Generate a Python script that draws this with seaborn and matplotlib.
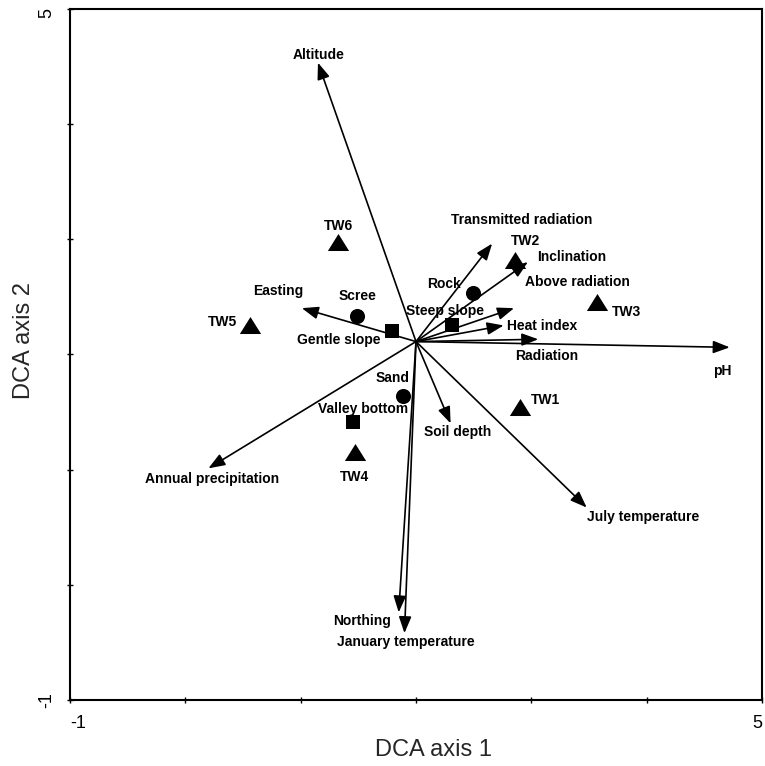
import matplotlib
matplotlib.use("Agg")
import matplotlib.pyplot as plt
import seaborn as sns
import pandas as pd
from matplotlib.path import Path

# Centroid from which the environmental vectors start
origin_x, origin_y = 2.0, 2.11

# Environmental variables (arrow tips in DCA space)
env_vars = ["Altitude", "Transmitted radiation", "Inclination", "Above radiation",
            "Heat index", "Radiation", "pH", "July temperature", "Soil depth",
            "Northing", "January temperature", "Annual precipitation", "Easting"]
env_x = [1.15, 2.66, 2.97, 2.85, 2.76, 3.06, 4.72, 3.48, 2.30, 1.85, 1.90, 0.20, 1.01]
env_y = [4.53, 2.96, 2.80, 2.40, 2.25, 2.13, 2.06, 0.67, 1.40, -0.24, -0.42, 1.01, 2.40]

# Sites
sites = ["TW1", "TW2", "TW3", "TW4", "TW5", "TW6"]
site_x = [2.90, 2.86, 3.57, 1.47, 0.56, 1.32]
site_y = [1.54, 2.82, 2.45, 1.15, 2.25, 2.97]

# Substrate classes
substrates = ["Rock", "Scree", "Sand"]
substrate_x = [2.49, 1.49, 1.89]
substrate_y = [2.53, 2.33, 1.64]

# Landform classes
landforms = ["Steep slope", "Gentle slope", "Valley bottom"]
landform_x = [2.31, 1.79, 1.45]
landform_y = [2.25, 2.20, 1.41]

# Label offsets from each mark, in pixels
label_offsets = {
    "Altitude": (1, 8), "Transmitted radiation": (30, 24), "Inclination": (44, 5),
    "Above radiation": (63, 26), "Heat index": (38, -1), "Radiation": (8, -17),
    "pH": (-7, -24), "July temperature": (56, -9), "Soil depth": (7, -9),
    "Northing": (-37, -9), "January temperature": (1, -9),
    "Annual precipitation": (4, -11), "Easting": (-24, 17),
    "TW1": (26, 7), "TW2": (10, 19), "TW3": (29, -10), "TW4": (0, -25),
    "TW5": (-27, 3), "TW6": (1, 16),
    "Rock": (-29, 9), "Scree": (0, 20), "Sand": (-11, 18),
    "Steep slope": (-7, 14), "Gentle slope": (-53, -9), "Valley bottom": (10, 13),
}

sns.set_style("ticks")
plt.rcParams["font.family"] = ["Liberation Sans", "DejaVu Sans"]

fig = plt.figure(figsize=(7.65, 7.66), dpi=100)
ax = fig.add_axes([70 / 765, 66 / 766, 692 / 765, 691.5 / 766])

site_df = pd.DataFrame({"x": site_x, "y": site_y, "name": sites})
sub_df = pd.DataFrame({"x": substrate_x, "y": substrate_y, "name": substrates})
land_df = pd.DataFrame({"x": landform_x, "y": landform_y, "name": landforms})

tri = Path([(-1, -0.8), (1, -0.8), (0, 0.8), (-1, -0.8)],
           [Path.MOVETO, Path.LINETO, Path.LINETO, Path.CLOSEPOLY])

sns.scatterplot(data=site_df, x="x", y="y", marker=tri, s=235, color="black",
                edgecolor="black", linewidth=0, ax=ax, zorder=4)
sns.scatterplot(data=sub_df, x="x", y="y", marker="o", s=118, color="black",
                edgecolor="black", linewidth=0, ax=ax, zorder=4)
sns.scatterplot(data=land_df, x="x", y="y", marker="s", s=100, color="black",
                edgecolor="black", linewidth=0, ax=ax, zorder=4)

# Environmental vectors
for name, x, y in zip(env_vars, env_x, env_y):
    ax.annotate("", xy=(x, y), xytext=(origin_x, origin_y),
                arrowprops=dict(arrowstyle="-|>,head_length=1.0,head_width=0.38",
                                mutation_scale=10, color="black", lw=1.2,
                                shrinkA=0, shrinkB=0), zorder=3)

label_kw = dict(textcoords="offset pixels", ha="center", va="center",
                fontsize=10, fontweight="bold", color="black", zorder=5)
for name, x, y in zip(env_vars, env_x, env_y):
    ax.annotate(name, (x, y), xytext=label_offsets[name], **label_kw)
for df in (site_df, sub_df, land_df):
    for name, x, y in zip(df["name"], df["x"], df["y"]):
        ax.annotate(name, (x, y), xytext=label_offsets[name], **label_kw)

ax.set_xlim(-1, 5)
ax.set_ylim(-1, 5)
ticks = [-1, 0, 1, 2, 3, 4, 5]
tick_labels = ["-1", "", "", "", "", "", "5"]
ax.set_xticks(ticks)
ax.set_xticklabels(tick_labels, fontsize=13)
ax.set_yticks(ticks)
ax.set_yticklabels(tick_labels, fontsize=13, rotation=90)
xl = ax.get_xticklabels()
xl[0].set_ha("left")
xl[-1].set_ha("right")
yl = ax.get_yticklabels()
yl[0].set_va("center")
yl[-1].set_va("top")
ax.tick_params(direction="inout", length=5, width=1.0, pad=8, colors="black")

for side in ("top", "right", "bottom", "left"):
    ax.spines[side].set_visible(True)
    ax.spines[side].set_linewidth(1.5)
    ax.spines[side].set_color("black")

ax.set_xlabel("DCA axis 1", fontsize=17)
ax.set_ylabel("DCA axis 2", fontsize=17)
ax.xaxis.set_label_coords(0.526, -0.056)
ax.yaxis.set_label_coords(-0.05, 0.52)

fig.savefig("out.png", dpi=100)
